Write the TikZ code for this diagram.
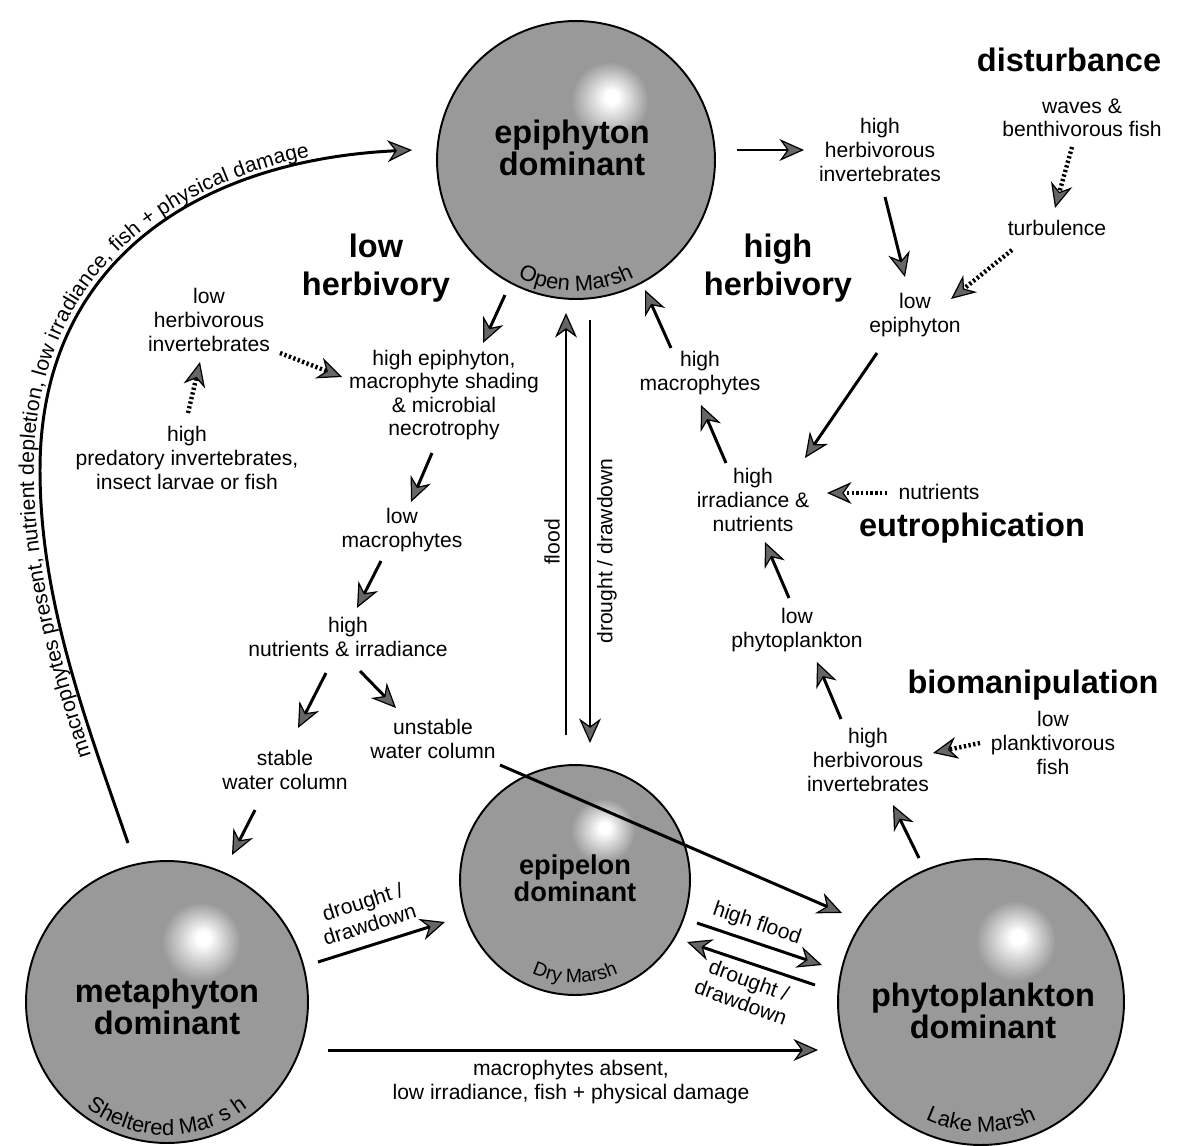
\documentclass[tikz,border=0pt]{standalone}
\usepackage{fontspec}
\setmainfont{Liberation Sans}
\usetikzlibrary{arrows.meta,decorations.text,calc}
\definecolor{sphgray}{gray}{0.60}
\pgfdeclareradialshading{sphA}{\pgfpoint{6.5bp}{11.5bp}}{color(0bp)=(white); color(1.2bp)=(white); color(7bp)=(sphgray); color(100bp)=(sphgray)}
\begin{document}
\begin{tikzpicture}[x=0.02cm,y=-0.02cm,
  txt/.style={align=center, font=\fontsize{12}{13.4}\selectfont, inner sep=1pt},
  big/.style={align=center, font=\fontsize{18.5}{21.5}\selectfont\bfseries, inner sep=1pt},
  sph/.style={circle, draw=black, line width=1.1pt, shade, shading=sphA, inner sep=0pt, outer sep=0pt},
  sphtxt/.style={align=center, font=\fontsize{18.5}{17}\selectfont\bfseries, inner sep=0pt},
  tip/.style={-{Stealth[length=14pt, width=12.5pt, inset=4.5pt, fill=black!60, line width=0.7pt]}},
  arr/.style={tip, line width=1.7pt},
  dotarr/.style={tip, line width=2.5pt, dash pattern=on 1.3pt off 1.4pt},
  marsh/.style={decorate, decoration={text along path, text align=center, text={#1}}}
]
\useasboundingbox[fill=white] (0,0) rectangle (1201,1146);

% spheres
\node[sph, minimum size=5.56cm] (epi) at (576,160) {};
\node[sph, minimum size=5.64cm] (meta) at (167,1002) {};
\node[sph, minimum size=4.60cm] (pel) at (575,880) {};
\node[sph, minimum size=5.72cm] (phy) at (981,1002) {};

\node[sphtxt] (epiT) at (572,148) {epiphyton\\dominant};
\node[sphtxt] (metaT) at (167,1007) {metaphyton\\dominant};
\node[sphtxt, font=\fontsize{15.5}{15.5}\selectfont\bfseries] (pelT) at (575,878) {epipelon\\dominant};
\node[sphtxt] (phyT) at (983,1011) {phytoplankton\\dominant};

% curved sphere labels
\path[marsh={|\fontsize{12.5}{14}\selectfont|Open Marsh}] ([shift={(200:2.62cm)}]epi.center) arc[start angle=200, end angle=340, radius=2.62cm];
\path[marsh={|\fontsize{12.5}{14}\selectfont|Sheltered Mar s h}] ([shift={(200:2.66cm)}]meta.center) arc[start angle=200, end angle=340, radius=2.66cm];
\path[marsh={|\fontsize{11}{13}\selectfont|Dry Marsh}] ([shift={(200:2.06cm)}]pel.center) arc[start angle=200, end angle=340, radius=2.06cm];
\path[marsh={|\fontsize{12.5}{14}\selectfont|Lake Marsh}] ([shift={(200:2.6cm)}]phy.center) arc[start angle=200, end angle=340, radius=2.6cm];

% titles
\node[big] (dist) at (1069,60) {disturbance};
\node[big] (hh) at (778,268) {high\\herbivory};
\node[big] (lh) at (376,268) {low\\herbivory};
\node[big] (eut) at (972,528) {eutrophication};
\node[big] (bio) at (1033,685) {biomanipulation};

% text nodes
\node[txt] (waves) at (1082,118) {waves \&\\benthivorous fish};
\node[txt] (turb) at (1057,228) {turbulence};
\node[txt] (hhi) at (880,150) {high\\herbivorous\\invertebrates};
\node[txt] (lowepi) at (915,315) {low\\epiphyton};
\node[txt] (irr) at (753,500) {high\\irradiance \&\\nutrients};
\node[txt] (nutr) at (939,492) {nutrients};
\node[txt] (hmac) at (700,373) {high\\macrophytes};
\node[txt] (lphy) at (797,630) {low\\phytoplankton};
\node[txt] (lpf) at (1053,743) {low\\planktivorous\\fish};
\node[txt] (hhi2) at (868,760) {high\\herbivorous\\invertebrates};
\node[txt] (lhi) at (209,320) {low\\herbivorous\\invertebrates};
\node[txt] (pred) at (187,458) {high\\predatory invertebrates,\\insect larvae or fish};
\node[txt] (hep) at (444,395) {high epiphyton,\\macrophyte shading\\\& microbial\\necrotrophy};
\node[txt] (lmac) at (402,530) {low\\macrophytes};
\node[txt] (hnut) at (348,637) {high\\nutrients \& irradiance};
\node[txt] (unst) at (433,739) {unstable\\water column};
\node[txt] (stab) at (285,770) {stable\\water column};
\node[txt, rotate=90] (fl) at (552,542) {flood};
\node[txt, rotate=90] (ddv) at (607,551) {drought / drawdown};
\node[txt, rotate=17.5] (ddl) at (366,913) {drought /\\drawdown};
\node[txt, rotate=-18.6] (hf) at (757,924) {high flood};
\node[txt, rotate=-20] (ddr) at (745,991) {drought /\\drawdown};
\node[txt] (mabs) at (571,1082) {macrophytes absent,\\low irradiance, fish + physical damage};

% right-hand chain
\draw[arr] ([shift={(161,-10)}]epi.center) -- ([shift={(-76,0)}]hhi.center);
\draw[arr] ([shift={(5,47)}]hhi.center) -- ([shift={(-10,-38)}]lowepi.center);
\draw[dotarr] ([shift={(-45,22)}]turb.center) -- ([shift={(36,-16)}]lowepi.center);
\draw[dotarr] ([shift={(-10,29)}]waves.center) -- ([shift={(-2,-20)}]turb.center);
\draw[arr] ([shift={(-38,38)}]lowepi.center) -- ([shift={(52,-42)}]irr.center);
\draw[dotarr] ([shift={(-52,1)}]nutr.center) -- ([shift={(74,-7)}]irr.center);
\draw[arr] ([shift={(-27,-37)}]irr.center) -- ([shift={(1,32)}]hmac.center);
\draw[arr] ([shift={(-29,-25)}]hmac.center) -- ([shift={(69,130)}]epi.center);
\draw[arr] ([shift={(-8,-32)}]lphy.center) -- ([shift={(12,42)}]irr.center);
\draw[arr] ([shift={(-27,-41)}]hhi2.center) -- ([shift={(20,32)}]lphy.center);
\draw[arr] ([shift={(-62,-144)}]phy.center) -- ([shift={(25,45)}]hhi2.center);
\draw[dotarr] ([shift={(-73,0)}]lpf.center) -- ([shift={(65,-7)}]hhi2.center);

% left-hand chain
\draw[arr] ([shift={(-71,135)}]epi.center) -- ([shift={(39,-52)}]hep.center);
\draw[dotarr] ([shift={(71,33)}]lhi.center) -- ([shift={(-102,-18)}]hep.center);
\draw[dotarr] ([shift={(1,-45)}]pred.center) -- ([shift={(-9,42)}]lhi.center);
\draw[arr] ([shift={(-12,58)}]hep.center) -- ([shift={(9,-28)}]lmac.center);
\draw[arr] ([shift={(-21,31)}]lmac.center) -- ([shift={(9,-29)}]hnut.center);
\draw[arr] ([shift={(-22,36)}]hnut.center) -- ([shift={(13,-42)}]stab.center);
\draw[arr] ([shift={(12,34)}]hnut.center) -- ([shift={(-37,-31)}]unst.center);
\draw[arr] ([shift={(67,26)}]unst.center) -- ([shift={(-139,-89)}]phy.center);
\draw[arr] ([shift={(-30,40)}]stab.center) -- ([shift={(65,-147)}]meta.center);

% flood / drawdown
\draw[arr] ([shift={(-9,-145)}]pel.center) -- ([shift={(-10,153)}]epi.center);
\draw[arr, line width=1.5pt] ([shift={(14,160)}]epi.center) -- ([shift={(15,-137)}]pel.center);

% bottom transitions
\draw[arr] ([shift={(151,-40)}]meta.center) -- ([shift={(-130,42)}]pel.center);
\draw[arr] ([shift={(161,48)}]meta.center) -- ([shift={(-163,48)}]phy.center);
\draw[arr] ([shift={(122,43)}]pel.center) -- ([shift={(-159,-37)}]phy.center);
\draw[arr] ([shift={(-166,-17)}]phy.center) -- ([shift={(112,62)}]pel.center);

% big curved transition
\coordinate (bend) at (40,470);
\draw[arr] ([shift={(-39,-159)}]meta.center) .. controls (85.5,720) and (40,600) .. (bend)
   .. controls (40,260) and (200,160) .. ([shift={(-164,-10)}]epi.center);
\path[decorate, decoration={text along path, raise=3.5pt, text align={left indent=1.9cm},
   text={|\fontsize{12}{14}\selectfont|macrophytes present, nutrient depletion, low irradiance, fish + physical damage}}]
   ([shift={(-39,-159)}]meta.center) .. controls (85.5,720) and (40,600) .. (bend)
   .. controls (40,260) and (200,160) .. ([shift={(-164,-10)}]epi.center);
\end{tikzpicture}
\end{document}
